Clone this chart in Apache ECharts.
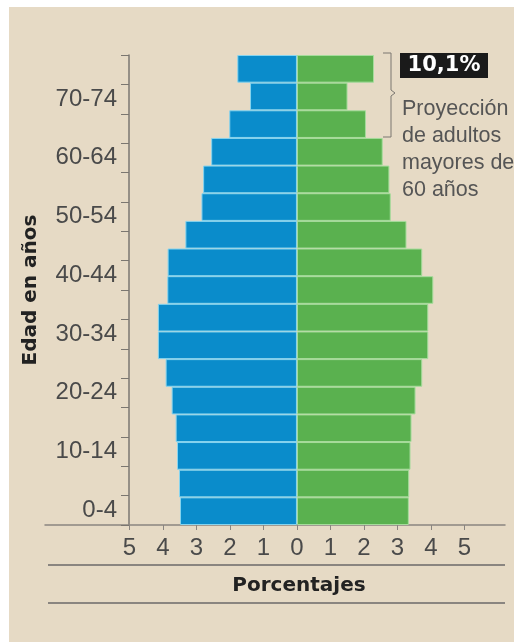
<!DOCTYPE html>
<html>
<head>
<meta charset="utf-8">
<script src="https://cdn.jsdelivr.net/npm/echarts@6/dist/echarts.min.js"></script>
<style>
  html, body { margin: 0; padding: 0; background: #ffffff; }
  #chart { position: absolute; left: 9px; top: 7px; width: 505px; height: 635px; background: #e6dac5; }
</style>
</head>
<body>
<div id="chart"></div>
<script>
// etiquetas del eje (16 tramos) y grupos de barras (17)
const ageTicks = ['0-4','5-9','10-14','15-19','20-24','25-29','30-34','35-39',
  '40-44','45-49','50-54','55-59','60-64','65-69','70-74','75-79'];
const ageGroups = ['0-4','5-9','10-14','15-19','20-24','25-29','30-34','35-39',
  '40-44','45-49','50-54','55-59','60-64','65-69','70-74','75-79','80+'];
// porcentajes por sexo, de abajo hacia arriba
const hombres = [3.49, 3.52, 3.58, 3.62, 3.74, 3.92, 4.15, 4.15, 3.87, 3.86, 3.33, 2.85, 2.80, 2.56, 2.02, 1.40, 1.78];
const mujeres = [3.34, 3.35, 3.39, 3.42, 3.54, 3.74, 3.92, 3.92, 4.07, 3.74, 3.27, 2.80, 2.76, 2.56, 2.06, 1.51, 2.30];
const xTicks = [-5, -4, -3, -2, -1, 0, 1, 2, 3, 4, 5];
const destacado = '10,1%';
const nota = ['Proyección', 'de adultos', 'mayores de', '60 años'];

const chart = echarts.init(document.getElementById('chart'));

const labelFont = { fontFamily: 'Liberation Sans, Arial, sans-serif', fontSize: 24, color: '#4a4a4a' };

const option = {
  animation: false,
  grid: { left: 36, right: 9, top: 48, bottom: 117 },
  xAxis: {
    type: 'value',
    min: -7.52,
    max: 6.21,
    axisLine: { show: true, onZero: false, lineStyle: { color: '#8a8580', width: 1.5 } },
    axisTick: { show: true, length: 5, customValues: xTicks, lineStyle: { color: '#8a8580' } },
    axisLabel: Object.assign({ customValues: xTicks, margin: 11, formatter: v => String(Math.abs(v)) }, labelFont),
    splitLine: { show: false }
  },
  yAxis: [
    {
      type: 'category',
      data: ageTicks,
      position: 'left',
      offset: -84,
      axisLine: { show: true, onZero: false, lineStyle: { color: '#7a7670', width: 1.5 } },
      axisTick: { show: true, interval: 0, length: 8, lineStyle: { color: '#7a7670' } },
      axisLabel: Object.assign({ interval: 1, margin: 12 }, labelFont),
      name: 'Edad en años',
      nameLocation: 'middle',
      nameGap: 88,
      nameTextStyle: { fontFamily: 'DejaVu Sans', fontWeight: 'bold', fontSize: 20, color: '#222' }
    },
    {
      type: 'category',
      data: ageGroups,
      show: false
    }
  ],
  series: [
    {
      name: 'Hombres',
      type: 'bar',
      stack: 'p',
      yAxisIndex: 1,
      barCategoryGap: 0,
      data: hombres.map(v => -v),
      itemStyle: { color: '#0a8ccb', borderColor: '#86d4ef', borderWidth: 1 }
    },
    {
      name: 'Mujeres',
      type: 'bar',
      stack: 'p',
      yAxisIndex: 1,
      barCategoryGap: 0,
      data: mujeres,
      itemStyle: { color: '#5ab14f', borderColor: '#a6dc9c', borderWidth: 1 }
    }
  ],
  graphic: [
    // llave del grupo de 60 años y más
    {
      type: 'polyline',
      shape: { points: [[374, 46], [382, 46], [382, 83], [386, 86], [382, 89], [382, 130], [374, 130]] },
      style: { stroke: '#7a7670', lineWidth: 1, fill: null }
    },
    { type: 'rect', shape: { x: 391, y: 46, width: 88, height: 25 }, style: { fill: '#1a1a1a' } },
    {
      type: 'text', x: 435, y: 59,
      style: { text: destacado, fill: '#fff', font: 'bold 21px DejaVu Sans', textAlign: 'center', textVerticalAlign: 'middle' }
    },
    {
      type: 'text', x: 393, y: 89,
      style: { text: nota.join('\n'), fill: '#555', font: '21.5px Liberation Sans', lineHeight: 27 }
    },
    // filetes del título inferior
    { type: 'line', shape: { x1: 39, y1: 558, x2: 496, y2: 558 }, style: { stroke: '#8a8580', lineWidth: 2 } },
    { type: 'line', shape: { x1: 39, y1: 596, x2: 496, y2: 596 }, style: { stroke: '#8a8580', lineWidth: 2 } },
    {
      type: 'text', x: 290, y: 579,
      style: { text: 'Porcentajes', fill: '#222', font: 'bold 20px DejaVu Sans', textAlign: 'center', textVerticalAlign: 'middle' }
    }
  ]
};

chart.setOption(option);
</script>
</body>
</html>
